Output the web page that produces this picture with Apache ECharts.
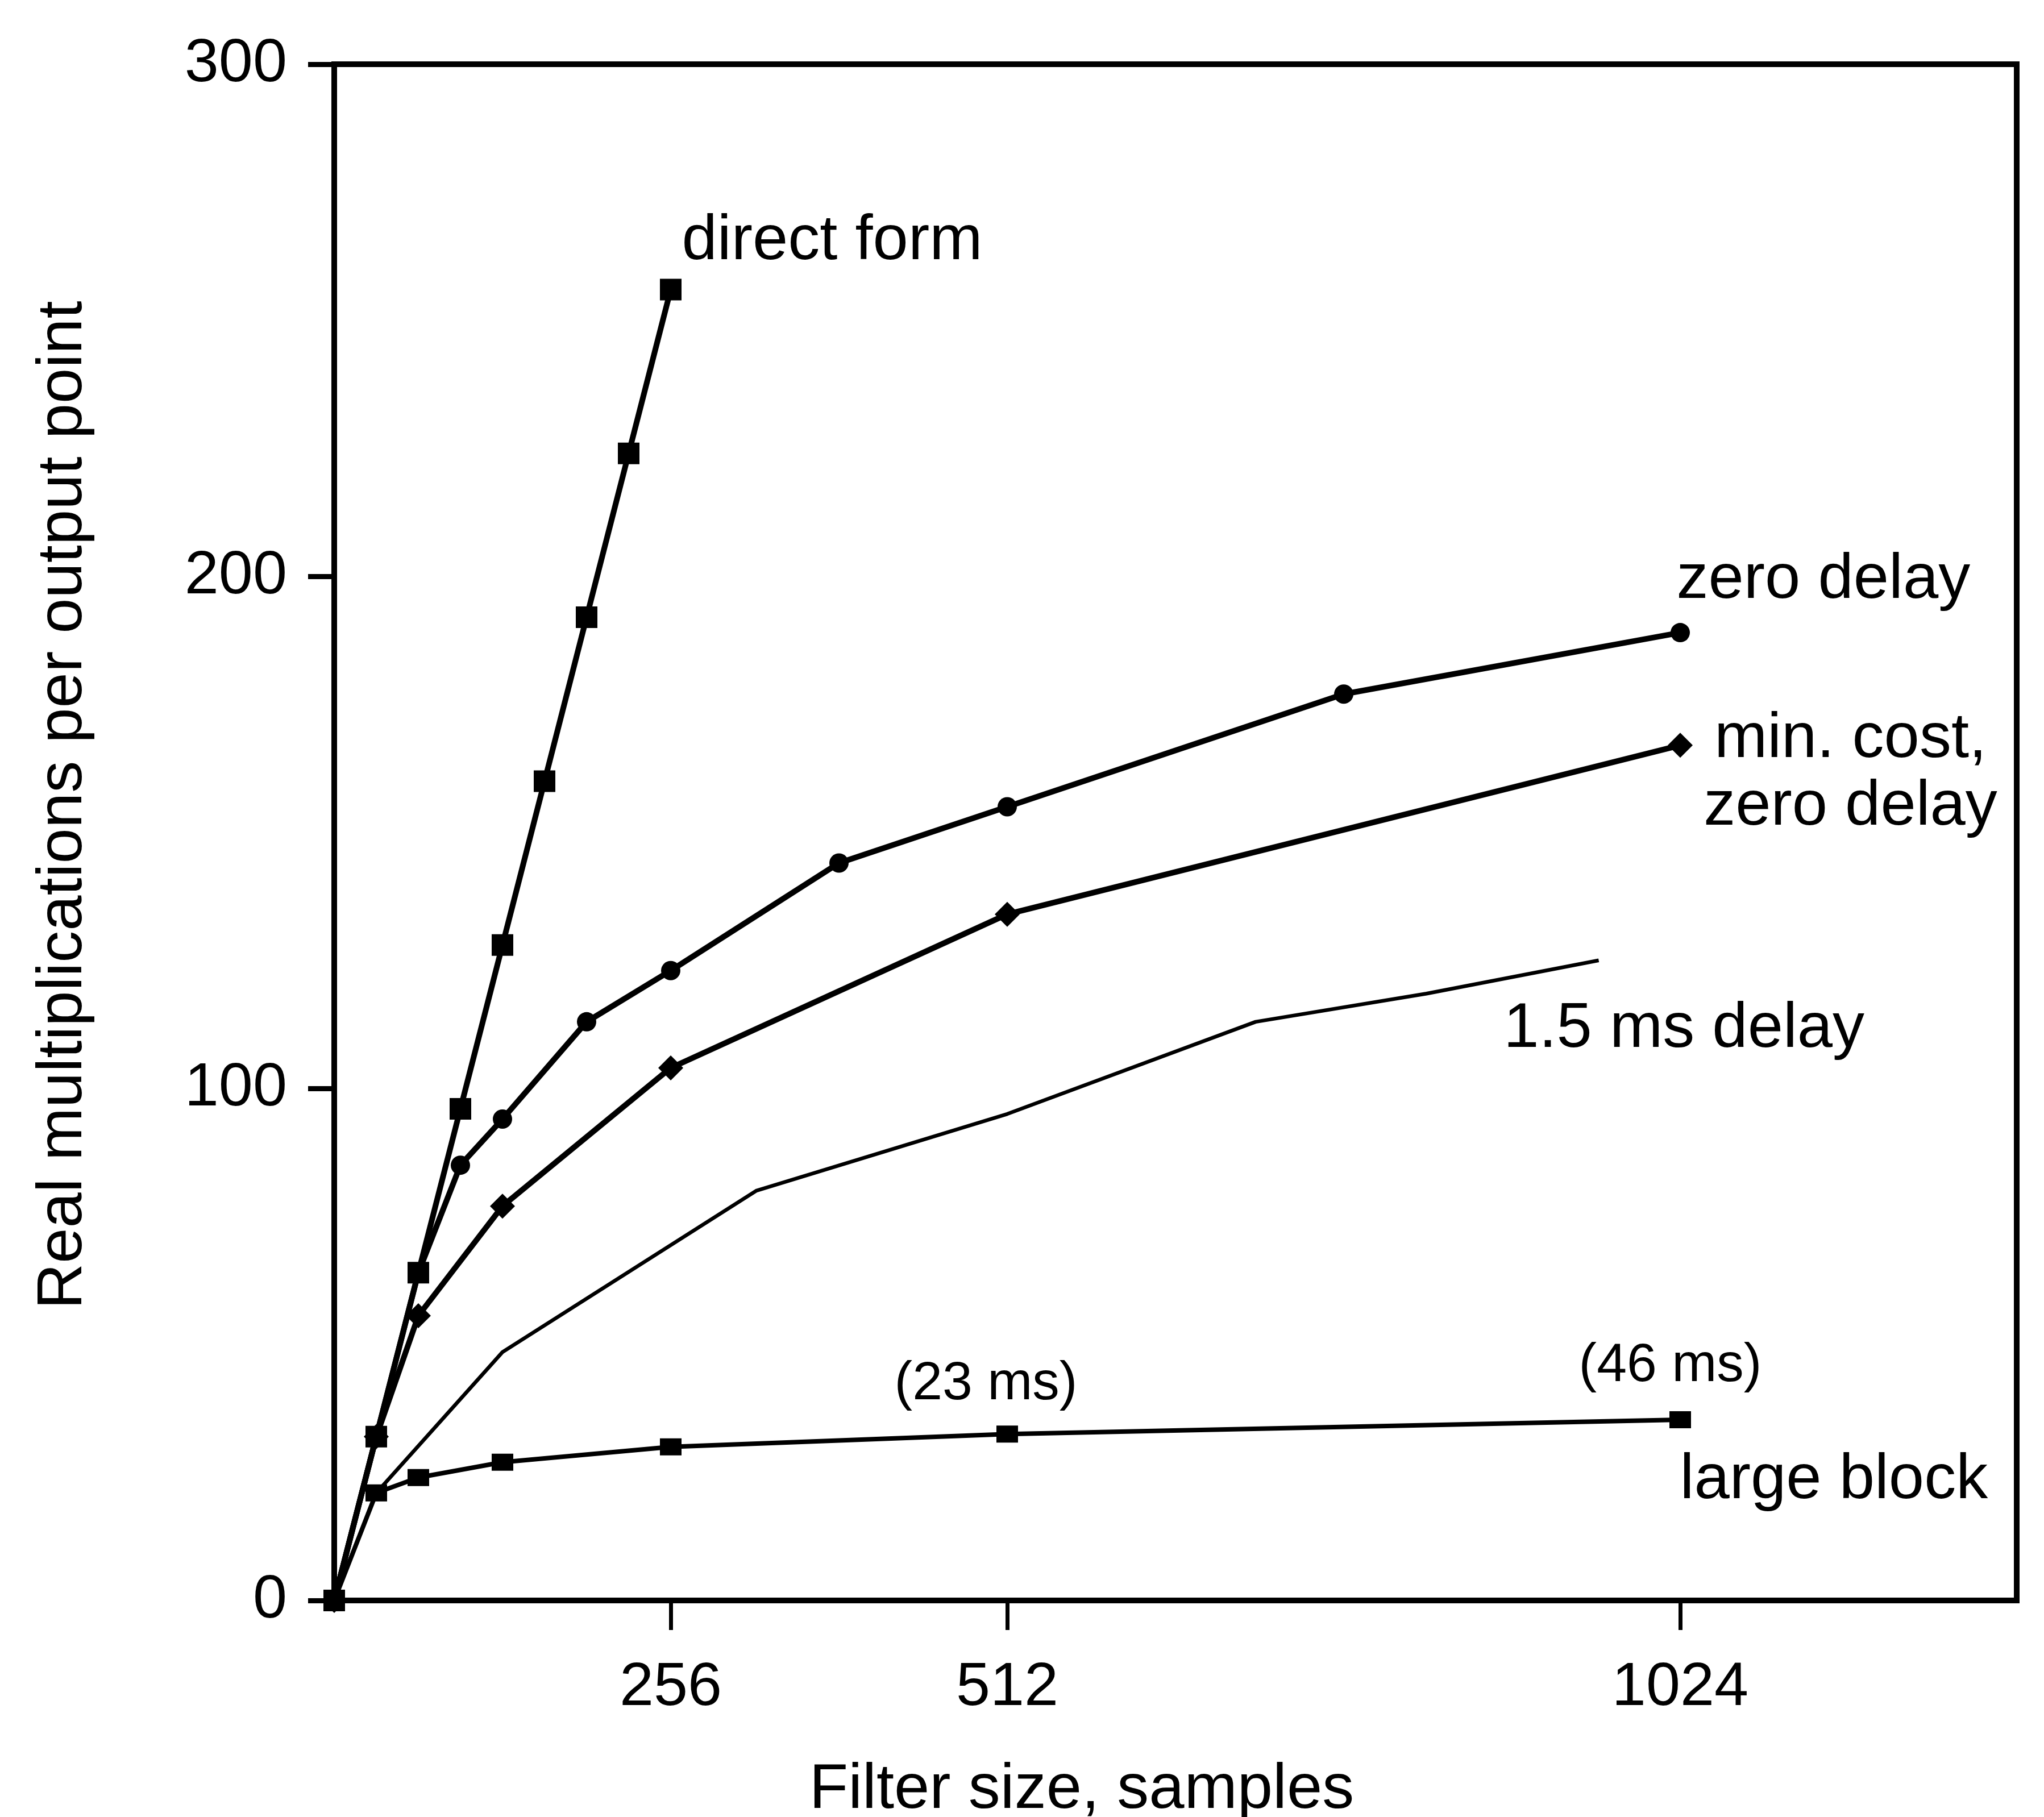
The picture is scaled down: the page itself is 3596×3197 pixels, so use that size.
<!DOCTYPE html>
<html>
<head>
<meta charset="utf-8">
<title>Real multiplications per output point</title>
<script src="https://cdn.jsdelivr.net/npm/echarts@6/dist/echarts.min.js"></script>
<style>
    html, body { margin: 0; padding: 0; background: #ffffff; }
    #chart { width: 3596px; height: 3197px; }
</style>
</head>
<body>
<div id="chart"></div>
<script>
// filter size (samples) -> real multiplications per output point
var directN = [0, 32, 64, 96, 128, 160, 192, 224, 256];
var directMults = [0, 32, 64, 96, 128, 160, 192, 224, 256];

var zeroDelayN = [0, 32, 64, 96, 128, 192, 256, 384, 512, 768, 1024];
var zeroDelayMults = [0, 32, 64, 85, 94, 113, 123, 144, 155, 177, 189];

var minCostN = [0, 32, 64, 128, 256, 512, 1024];
var minCostMults = [0, 32, 55.6, 77, 104, 134, 167];

var delay15N = [0, 32, 128, 321, 512, 701, 831, 962];
var delay15Mults = [0, 21, 48.5, 80, 95, 113, 118.5, 125];

var largeBlockN = [0, 32, 64, 128, 256, 512, 1024];
var largeBlockMults = [0, 21, 24, 27, 30, 32.5, 35.3];

var xTicks = [256, 512, 1024];
var yTicks = [0, 100, 200, 300];

var font = 'Liberation Sans';

function pairs(xs, ys) {
    var out = [];
    for (var i = 0; i < xs.length; i++) {
        out.push([xs[i], ys[i]]);
    }
    return out;
}

function last(xs, ys) {
    return [xs[xs.length - 1], ys[ys.length - 1]];
}

// text annotation tied to a data point
function note(text, coord, pos, align, size) {
    return {
        coord: coord,
        label: {
            show: true,
            formatter: text,
            position: pos,
            align: align,
            verticalAlign: 'middle',
            color: '#000',
            fontSize: size || 112,
            lineHeight: 119,
            fontFamily: font
        }
    };
}

function marks(list) {
    return {
        symbol: 'circle',
        symbolSize: 1,
        silent: true,
        animation: false,
        itemStyle: { color: 'rgba(0,0,0,0)' },
        data: list
    };
}

var myChart = echarts.init(document.getElementById('chart'));

var option = {
    backgroundColor: '#ffffff',
    animation: false,
    grid: {
        left: 588,
        right: 48,
        top: 113,
        bottom: 381,
        outerBoundsMode: 'none',
        show: true,
        borderColor: '#000',
        borderWidth: 10
    },
    xAxis: {
        type: 'value',
        min: 0,
        max: 1280,
        name: 'Filter size, samples',
        nameLocation: 'middle',
        nameGap: 278,
        nameTextStyle: {
            color: '#000',
            fontSize: 112,
            fontFamily: font,
            padding: [0, 330, 0, 0]
        },
        axisLine: { show: true, onZero: false, lineStyle: { color: '#000', width: 10 } },
        axisTick: {
            show: true,
            inside: false,
            length: 52,
            customValues: xTicks,
            lineStyle: { color: '#000', width: 7 }
        },
        axisLabel: {
            show: true,
            customValues: xTicks,
            margin: 100,
            color: '#000',
            fontSize: 108,
            fontFamily: font,
            formatter: function (v) { return String(v); }
        },
        splitLine: { show: false }
    },
    yAxis: {
        type: 'value',
        min: yTicks[0],
        max: yTicks[yTicks.length - 1],
        interval: 100,
        name: 'Real multiplications per output point',
        nameLocation: 'middle',
        nameGap: 420,
        nameTextStyle: {
            color: '#000',
            fontSize: 112,
            fontFamily: font,
            padding: [0, 0, 0, 96]
        },
        axisLine: { show: true, lineStyle: { color: '#000', width: 10 } },
        axisTick: {
            show: true,
            inside: false,
            length: 46,
            lineStyle: { color: '#000', width: 9 }
        },
        axisLabel: {
            show: true,
            margin: 83,
            color: '#000',
            fontSize: 108,
            fontFamily: font
        },
        splitLine: { show: false }
    },
    series: [
        {
            name: '1.5 ms delay',
            type: 'line',
            data: pairs(delay15N, delay15Mults),
            showSymbol: false,
            clip: false,
            z: 2,
            lineStyle: { color: '#000', width: 6.5 },
            markPoint: marks([
                note('1.5 ms delay', last(delay15N, delay15Mults), [-167, 122], 'left')
            ])
        },
        {
            name: 'large block',
            type: 'line',
            data: pairs(largeBlockN, largeBlockMults),
            symbol: 'rect',
            symbolSize: [38, 30],
            clip: false,
            z: 3,
            itemStyle: { color: '#000' },
            lineStyle: { color: '#000', width: 8 },
            markPoint: marks([
                note('(23 ms)', [largeBlockN[5], largeBlockMults[5]], [-37, -87], 'center', 95),
                note('(46 ms)', last(largeBlockN, largeBlockMults), [-17, -94], 'center', 95),
                note('large block', last(largeBlockN, largeBlockMults), [0, 108], 'left')
            ])
        },
        {
            name: 'min. cost, zero delay',
            type: 'line',
            data: pairs(minCostN, minCostMults),
            symbol: 'diamond',
            symbolSize: 44,
            clip: false,
            z: 4,
            itemStyle: { color: '#000' },
            lineStyle: { color: '#000', width: 10 },
            markPoint: marks([
                note('min. cost,\nzero delay', last(minCostN, minCostMults), [300, 50], 'center')
            ])
        },
        {
            name: 'zero delay',
            type: 'line',
            data: pairs(zeroDelayN, zeroDelayMults),
            symbol: 'circle',
            symbolSize: 34,
            clip: false,
            z: 5,
            itemStyle: { color: '#000' },
            lineStyle: { color: '#000', width: 10 },
            markPoint: marks([
                note('zero delay', last(zeroDelayN, zeroDelayMults), [-6, -92], 'left')
            ])
        },
        {
            name: 'direct form',
            type: 'line',
            data: pairs(directN, directMults),
            symbol: 'rect',
            symbolSize: 38,
            clip: false,
            z: 6,
            itemStyle: { color: '#000' },
            lineStyle: { color: '#000', width: 10 },
            markPoint: marks([
                note('direct form', last(directN, directMults), [20, -84], 'left')
            ])
        }
    ]
};

myChart.setOption(option);
</script>
</body>
</html>
